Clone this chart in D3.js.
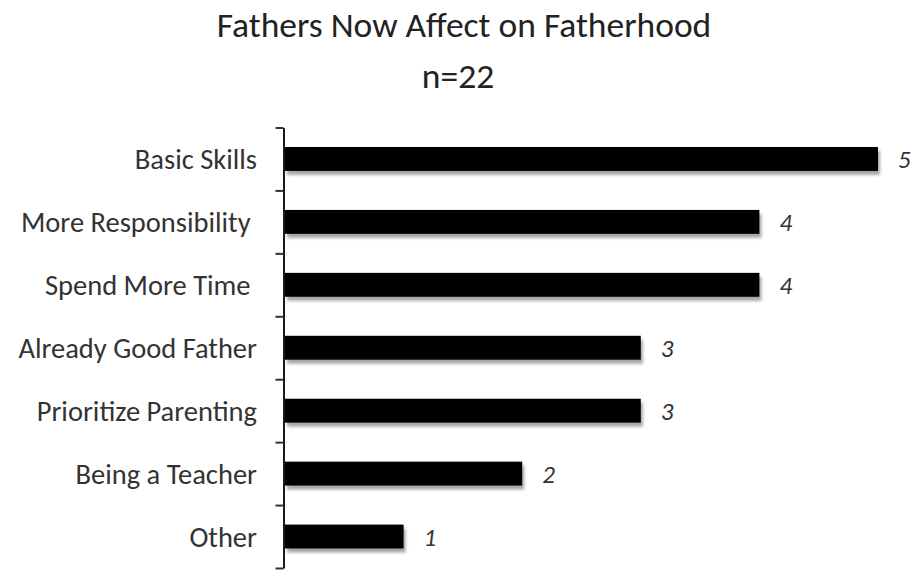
<!DOCTYPE html>
<html>
<head>
<meta charset="utf-8">
<style>
  body { margin: 0; background: #fff; }
  svg { display: block; }
  .cat text { font-family: Carlito, "Open Sans", sans-serif; font-size: 28.5px; fill: #333; white-space: pre; }
  .val { font-family: Carlito, "Open Sans", sans-serif; font-size: 25px; font-style: italic; fill: #333; }
  .title { font-family: Carlito, "Open Sans", sans-serif; font-size: 35.5px; fill: #222; }
</style>
</head>
<body>
<svg width="914" height="572"></svg>
<script src="https://d3js.org/d3.v7.min.js"></script>
<script>
// data
var categories = ["Basic Skills", "More Responsibility ", "Spend More Time ", "Already Good Father",
                  "Prioritize Parenting", "Being a Teacher", "Other"];
var counts = [5, 4, 4, 3, 3, 2, 1];
var titleLines = ["Fathers Now Affect on Fatherhood", "n=22"];

var svg = d3.select("svg");

var x0 = 285, x1 = 878, yTop = 127.5, yBot = 568;

var x = d3.scaleLinear().domain([0, 5]).range([x0, x1]);
var y = d3.scaleBand().domain(categories).range([yTop, yBot])
  .paddingInner(0.62).paddingOuter(0.31);

// drop shadow like the old office chart
var defs = svg.append("defs");
var f = defs.append("filter").attr("id", "shadow")
  .attr("x", "-5%").attr("y", "-30%").attr("width", "115%").attr("height", "180%");
f.append("feDropShadow").attr("dx", 2).attr("dy", 4).attr("stdDeviation", 1.8)
  .attr("flood-color", "#000").attr("flood-opacity", 0.35);

svg.selectAll(".title").data(titleLines).enter().append("text")
  .attr("class", "title")
  .attr("x", function(d, i) { return i ? 458 : 464; })
  .attr("y", function(d, i) { return 37 + i * 51; })
  .attr("text-anchor", "middle")
  .text(function(d) { return d; });

svg.append("g").selectAll("rect").data(counts).enter().append("rect")
  .attr("x", x(0))
  .attr("y", function(d, i) { return y(categories[i]); })
  .attr("width", function(d) { return x(d) - x(0); })
  .attr("height", y.bandwidth())
  .attr("fill", "#000")
  .attr("filter", "url(#shadow)");

svg.append("g").selectAll("text").data(counts).enter().append("text")
  .attr("class", "val")
  .attr("x", function(d) { return x(d) + 20; })
  .attr("y", function(d, i) { return y(categories[i]) + y.bandwidth() / 2; })
  .attr("dy", "0.36em")
  .text(function(d) { return d; });

// category labels
var catAxis = svg.append("g").attr("class", "cat")
  .attr("transform", "translate(" + (x0 - 28) + ",0)")
  .call(d3.axisLeft(y).tickSize(0).tickPadding(0));
catAxis.select(".domain").remove();
catAxis.selectAll("text").attr("dy", "0.35em");

// axis line with ticks on the band edges
var edge = d3.scaleLinear().domain([0, categories.length]).range([yTop, yBot]);
var ax = svg.append("g").attr("transform", "translate(" + (x0 - 1.5) + ",0)")
  .call(d3.axisLeft(edge).tickValues(d3.range(categories.length + 1))
    .tickFormat("").tickSize(8).tickSizeOuter(0));
ax.select(".domain").attr("stroke", "#1a1a1a").attr("stroke-width", 2);
ax.selectAll(".tick line").attr("stroke", "#333").attr("stroke-width", 2);
</script>
</body>
</html>
